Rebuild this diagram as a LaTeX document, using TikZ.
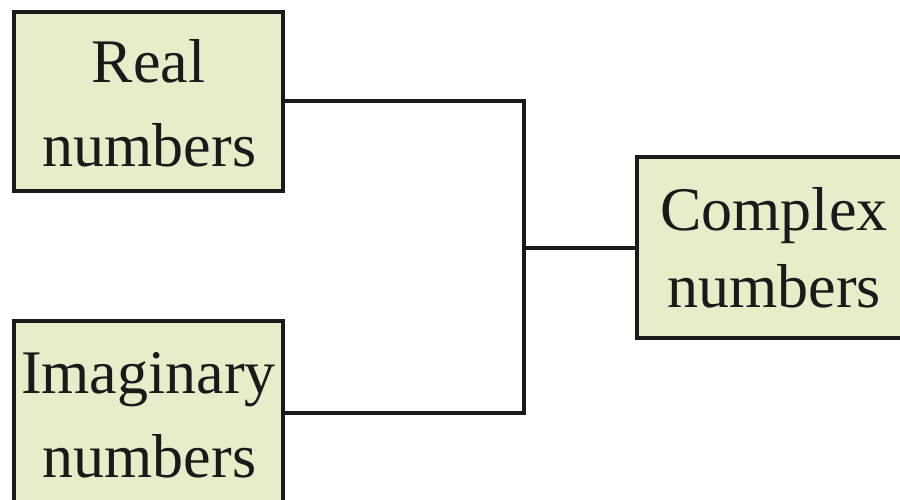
\documentclass[tikz,border=0pt]{standalone}
\usepackage{fontspec}
\setmainfont{Liberation Serif}
\definecolor{boxfill}{HTML}{E8ECC9}
\definecolor{ink}{HTML}{1A1A1A}
\tikzset{
  numbox/.style={draw=ink, fill=boxfill, line width=4pt, rectangle, outer sep=0pt, inner sep=0pt},
  lbl/.style={anchor=base, inner sep=0pt, text=ink, font=\fontsize{62}{84}\selectfont},
  conn/.style={draw=ink, line width=4pt, line cap=rect}
}
\begin{document}
\begin{tikzpicture}[x=1pt, y=-1pt]
\useasboundingbox (0,0) rectangle (900,500);
\clip (0,0) rectangle (900,500);
% boxes
\node[numbox, minimum width=269pt, minimum height=179pt] (real) at (148.5,101.5) {};
\node[numbox, minimum width=269pt, minimum height=184pt] (imag) at (148.5,413) {};
\node[numbox, minimum width=269pt, minimum height=181pt] (complex) at (771.5,247.5) {};
% texts
\node[lbl] (realA) at (148.5,83) {Real};
\node[lbl] (realB) at (149.5,167) {numbers};
\node[lbl] (imagA) at (148.5,393) {Imaginary};
\node[lbl] (imagB) at (149.5,477) {numbers};
\node[lbl] (compA) at (774,230) {Complex};
\node[lbl] (compB) at (774,307) {numbers};
% connectors
\coordinate (j) at (524,247.5);
\draw[conn, line cap=butt] (real.east) -| (j) |- (imag.east);
\draw[conn, line cap=butt] (j) -- (complex.west);
\end{tikzpicture}
\end{document}
